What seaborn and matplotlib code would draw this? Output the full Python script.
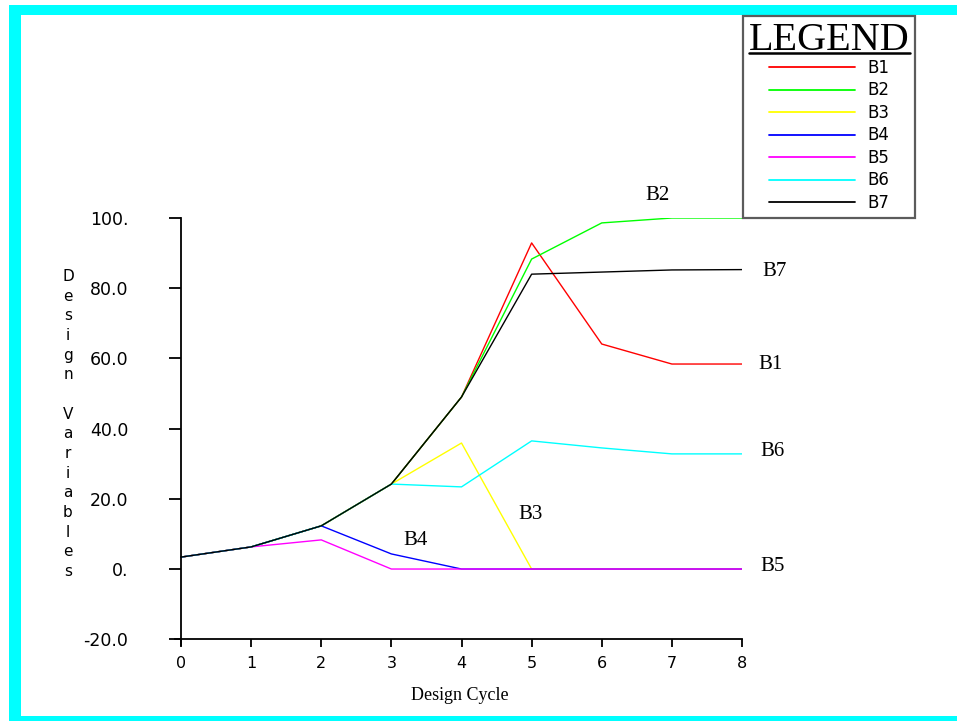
import numpy as np
import pandas as pd
import seaborn as sns
import matplotlib.pyplot as plt
from matplotlib.patches import Rectangle
from matplotlib.lines import Line2D

# data
cycles = [0, 1, 2, 3, 4, 5, 6, 7, 8]
series_names = ['B1', 'B2', 'B3', 'B4', 'B5', 'B6', 'B7']
b1 = [3.4, 6.3, 12.3, 24.2, 49.0, 92.9, 64.1, 58.4, 58.4]
b2 = [3.4, 6.3, 12.3, 24.2, 49.0, 88.3, 98.6, 100.0, 100.0]
b3 = [3.4, 6.3, 12.3, 24.2, 35.9, 0.0, 0.0, 0.0, 0.0]
b4 = [3.4, 6.3, 12.3, 4.3, 0.0, 0.0, 0.0, 0.0, 0.0]
b5 = [3.4, 6.3, 8.3, 0.0, 0.0, 0.0, 0.0, 0.0, 0.0]
b6 = [3.4, 6.3, 12.3, 24.2, 23.4, 36.5, 34.5, 32.8, 32.8]
b7 = [3.4, 6.3, 12.3, 24.2, 49.0, 84.0, 84.6, 85.2, 85.3]
colors = ['#ff0000', '#00ff00', '#ffff00', '#0000ff', '#ff00ff', '#00ffff', '#000000']

yticks = [-20, 0, 20, 40, 60, 80, 100]
ytick_labels = ['-20.0', '0.', '20.0', '40.0', '60.0', '80.0', '100.']

# end-of-line labels (text, x, y)
end_labels = [('B2', 6.8, 106.3), ('B7', 8.47, 84.9), ('B1', 8.41, 58.4),
              ('B6', 8.44, 33.6), ('B3', 4.99, 15.4), ('B4', 3.35, 8.0),
              ('B5', 8.44, 0.6)]

rows = []
for name, vals in zip(series_names, [b1, b2, b3, b4, b5, b6, b7]):
    for c, v in zip(cycles, vals):
        rows.append({'cycle': c, 'value': v, 'series': name})
df = pd.DataFrame(rows)

sns.set_style('white')
plt.rcParams['font.family'] = ['DejaVu Sans']
plt.rcParams['text.color'] = 'black'
plt.rcParams['axes.labelcolor'] = 'black'
plt.rcParams['xtick.color'] = 'black'
plt.rcParams['ytick.color'] = 'black'

W, H = 957, 721
fig = plt.figure(figsize=(W / 100, H / 100), dpi=100)

# cyan frame (cropped on the right)
fig.patches.append(Rectangle((9 / W, 0), 1, 1 - 5 / H, transform=fig.transFigure,
                             facecolor='#00ffff', edgecolor='none', zorder=-10))
fig.patches.append(Rectangle((21 / W, 5 / H), 1, (716 - 15) / H, transform=fig.transFigure,
                             facecolor='white', edgecolor='none', zorder=-9))

ax = fig.add_axes([174.7 / W, 1 - 645.2 / H, (742 - 174.7) / W, (645.2 - 218) / H])
ax.patch.set_alpha(0)

palette = dict(zip(series_names, colors))
sns.lineplot(data=df, x='cycle', y='value', hue='series', hue_order=series_names,
             palette=palette, linewidth=1.0, legend=False, ax=ax)

ax.set_xlim(-0.09, 8)
ax.set_ylim(-21.7, 100)
ax.spines['left'].set_position(('data', 0))
ax.spines['bottom'].set_position(('data', -20))
for s in ['top', 'right']:
    ax.spines[s].set_visible(False)
for s in ['left', 'bottom']:
    ax.spines[s].set_color('black')
    ax.spines[s].set_linewidth(1.3)

ax.set_xticks(cycles)
ax.set_xticklabels([str(c) for c in cycles])
ax.set_yticks(yticks)
ax.set_yticklabels(ytick_labels)
ax.tick_params(axis='x', direction='out', length=6, width=1.3, color='black',
               pad=6, labelsize=11.5)
ax.tick_params(axis='y', direction='out', length=9, width=1.3, color='black',
               pad=29, labelsize=12.5)
ax.tick_params(left=True, bottom=True)

ax.set_xlabel('Design Cycle', family='Liberation Serif', fontsize=13, va='center')
ax.xaxis.set_label_coords(0.503, (645.2 - 696) / (645.2 - 218))
ax.set_ylabel('\n'.join('Design Variables'), rotation=0, fontsize=11,
              linespacing=1.39, ha='center', va='center')
ax.yaxis.set_label_coords((68 - 174.7) / (742 - 174.7), (645.2 - 424) / (645.2 - 218))

for txt, x, y in end_labels:
    ax.text(x, y, txt, family='Liberation Serif', fontsize=15,
            ha='center', va='center', clip_on=False)

handles = [Line2D([], [], color=c, linewidth=1.3) for c in colors]
leg = fig.legend(handles, series_names, loc='upper left',
                 bbox_to_anchor=(743 / W, 1 - 16 / H), borderaxespad=0,
                 title='LEGEND', fancybox=False, frameon=True, fontsize=12,
                 handlelength=5.2, handletextpad=0.75, labelspacing=0.27,
                 borderpad=0.35)
leg.get_title().set_family('Liberation Serif')
leg.get_title().set_fontsize(29)
leg._legend_box.sep = 0
leg.get_frame().set_edgecolor('#333333')
leg.get_frame().set_linewidth(1.6)

# underline the legend title
fig.canvas.draw()
bb = leg.get_title().get_window_extent()
uy = bb.y0 + 6
fig.add_artist(Line2D([bb.x0 / W, bb.x1 / W], [uy / H, uy / H], transform=fig.transFigure,
                      color='black', linewidth=1.8, zorder=20))

fig.savefig('out.png', dpi=100)
